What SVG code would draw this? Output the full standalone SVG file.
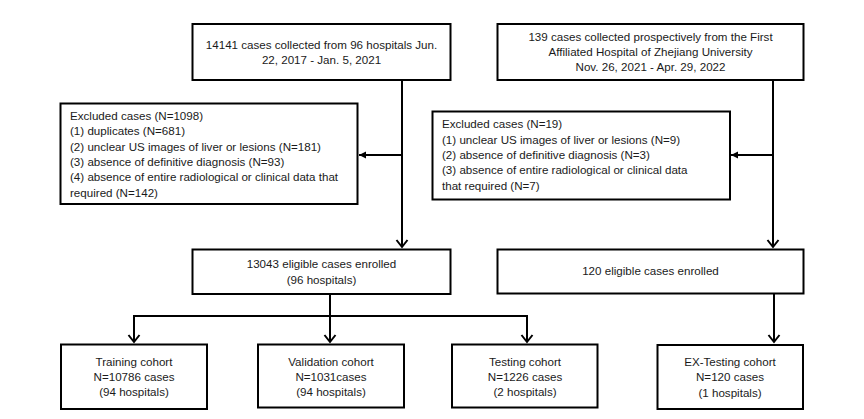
<svg xmlns="http://www.w3.org/2000/svg" width="864" height="419" viewBox="0 0 864 419">
<style>
.box{fill:#fff;stroke:#000;stroke-width:2}
.t{font-family:"Liberation Sans",Arial,sans-serif;font-size:11.6px;fill:#1a1a1a}
.c{text-anchor:middle}
.ln{fill:none;stroke:#000;stroke-width:2}
</style>
<defs>
<marker id="chev" markerUnits="userSpaceOnUse" viewBox="-10 -10 20 20" markerWidth="20" markerHeight="20" refX="0" refY="0" orient="auto" overflow="visible">
<path d="M-7,-5.5 L0,0 L-7,5.5" fill="none" stroke="#000" stroke-width="2"/>
</marker>
<marker id="tri" markerUnits="userSpaceOnUse" viewBox="-10 -10 20 20" markerWidth="20" markerHeight="20" refX="0" refY="0" orient="auto" overflow="visible">
<path d="M-7,-3.5 L0,0 L-7,3.5 Z" fill="#000"/>
</marker>
</defs>
<rect width="864" height="419" fill="#fff"/>
<g id="connectors">
<path class="ln" d="M402,80 V247" marker-end="url(#chev)"/>
<path class="ln" d="M402,155 H359" marker-end="url(#tri)"/>
<path class="ln" d="M773,80 V247" marker-end="url(#chev)"/>
<path class="ln" d="M773,155 H731" marker-end="url(#tri)"/>
<path class="ln" d="M330,294 V342" marker-end="url(#chev)"/>
<path class="ln" d="M134,342 V316 H527 V342" marker-end="url(#chev)"/>
<path class="ln" d="M134,316 V342" marker-end="url(#chev)"/>
<path class="ln" d="M774,293 V342" marker-end="url(#chev)"/>
</g>
<g id="n_source1">
<rect class="box" x="192.5" y="24" width="258" height="56"/>
<text class="t c" x="321.5" y="48.5">14141 cases collected from 96 hospitals Jun.</text>
<text class="t c" x="321.5" y="63.8">22, 2017 - Jan. 5, 2021</text>
</g>
<g id="n_source2">
<rect class="box" x="497.5" y="24" width="306" height="56"/>
<text class="t c" x="650.5" y="40.5">139 cases collected prospectively from the First</text>
<text class="t c" x="650.5" y="55.8">Affiliated Hospital of Zhejiang University</text>
<text class="t c" x="650.5" y="71.1">Nov. 26, 2021 - Apr. 29, 2022</text>
</g>
<g id="n_excl1">
<rect class="box" x="60.5" y="103.5" width="297" height="100.5"/>
<text class="t" x="70" y="120">Excluded cases (N=1098)</text>
<text class="t" x="70" y="135.3">(1) duplicates (N=681)</text>
<text class="t" x="70" y="150.6">(2) unclear US images of liver or lesions (N=181)</text>
<text class="t" x="70" y="165.9">(3) absence of definitive diagnosis (N=93)</text>
<text class="t" x="70" y="181.2">(4) absence of entire radiological or clinical data that</text>
<text class="t" x="70" y="196.5">required (N=142)</text>
</g>
<g id="n_excl2">
<rect class="box" x="432.5" y="111.5" width="297.5" height="88"/>
<text class="t" x="442" y="128.3">Excluded cases (N=19)</text>
<text class="t" x="442" y="143.6">(1) unclear US images of liver or lesions (N=9)</text>
<text class="t" x="442" y="158.9">(2) absence of definitive diagnosis (N=3)</text>
<text class="t" x="442" y="174.2">(3) absence of entire radiological or clinical data</text>
<text class="t" x="442" y="189.5">that required (N=7)</text>
</g>
<g id="n_elig1">
<rect class="box" x="192.5" y="249.5" width="258" height="44.5"/>
<text class="t c" x="321.5" y="268.3">13043 eligible cases enrolled</text>
<text class="t c" x="321.5" y="283.6">(96 hospitals)</text>
</g>
<g id="n_elig2">
<rect class="box" x="497.5" y="249.5" width="306" height="44"/>
<text class="t c" x="650.5" y="275">120 eligible cases enrolled</text>
</g>
<g id="n_train">
<rect class="box" x="61" y="344.5" width="146" height="64.5"/>
<text class="t c" x="134" y="365.7">Training cohort</text>
<text class="t c" x="134" y="381">N=10786 cases</text>
<text class="t c" x="134" y="396.3">(94 hospitals)</text>
</g>
<g id="n_valid">
<rect class="box" x="258" y="344.5" width="146" height="63"/>
<text class="t c" x="331" y="365.5">Validation cohort</text>
<text class="t c" x="331" y="380.8">N=1031cases</text>
<text class="t c" x="331" y="396.1">(94 hospitals)</text>
</g>
<g id="n_test">
<rect class="box" x="452" y="344.5" width="145.5" height="63"/>
<text class="t c" x="525" y="365.5">Testing cohort</text>
<text class="t c" x="525" y="380.8">N=1226 cases</text>
<text class="t c" x="525" y="396.1">(2 hospitals)</text>
</g>
<g id="n_extest">
<rect class="box" x="657.5" y="345" width="145.5" height="64"/>
<text class="t c" x="730" y="366">EX-Testing cohort</text>
<text class="t c" x="730" y="381.3">N=120 cases</text>
<text class="t c" x="730" y="396.6">(1 hospitals)</text>
</g>
</svg>
